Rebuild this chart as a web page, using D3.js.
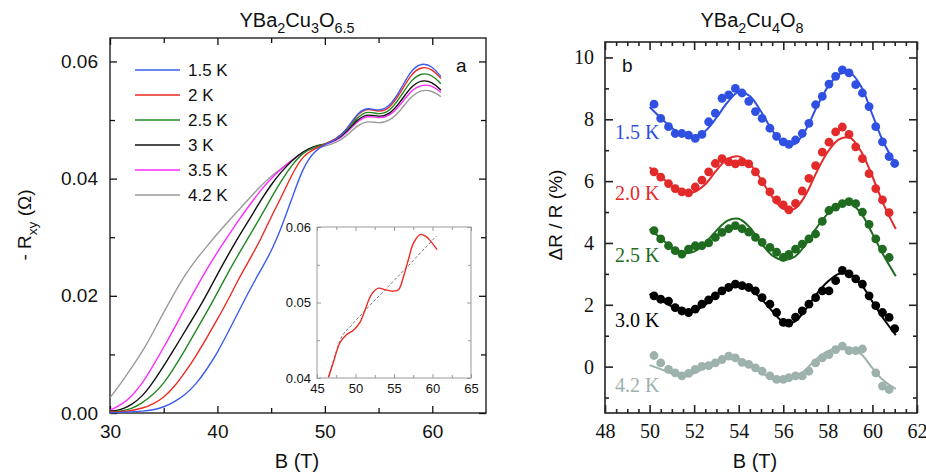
<!DOCTYPE html>
<html>
<head>
<meta charset="utf-8">
<script src="https://cdn.jsdelivr.net/npm/d3@7"></script>
<style>
body{margin:0;background:#fff;}
text{font-family:Arial,"Liberation Sans",sans-serif;fill:#111;}
.serif{font-family:"Liberation Serif","Times New Roman",serif;}
</style>
</head>
<body>
<svg id="chart" width="926" height="476"></svg>
<script>
// ---------- panel a : YBa2Cu3O6.5 Hall resistance ----------
var fieldA = [30,31,32,33,34,35,36,37,38,39,40,41,42,43,44,45,46,47,48,49,50,51,52,53,54,55,56,57,58,59,60,60.8];
var temps = ["1.5 K","2 K","2.5 K","3 K","3.5 K","4.2 K"];
var rxy15 = [.0000,.0001,.0002,.0003,.0005,.0010,.0019,.0031,.0049,.0074,.0103,.0138,.0174,.0210,.0243,.0275,.0318,.0370,.0420,.0447,
             .0458,.0466,.0482,.0512,.0522,.0515,.0522,.0550,.0585,.0598,.0592,.0574];
var rxy20 = [.0001,.0002,.0004,.0008,.0015,.0026,.0045,.0070,.0097,.0128,.0160,.0193,.0230,.0262,.0295,.0335,.0370,.0410,.0440,.0450,
             .0459,.0467,.0482,.0510,.0521,.0513,.0519,.0545,.0578,.0592,.0587,.0571];
var rxy25 = [.0002,.0003,.0007,.0017,.0031,.0050,.0078,.0108,.0140,.0172,.0205,.0240,.0272,.0303,.0334,.0367,.0398,.0425,.0445,.0454,
             .0459,.0466,.0481,.0505,.0516,.0509,.0514,.0538,.0568,.0581,.0577,.0562];
var rxy30 = [.0003,.0005,.0014,.0028,.0052,.0080,.0110,.0140,.0170,.0202,.0237,.0270,.0302,.0331,.0362,.0390,.0413,.0432,.0447,.0455,
             .0459,.0465,.0479,.0501,.0511,.0505,.0509,.0530,.0557,.0569,.0565,.0551];
var rxy35 = [.0005,.0013,.0028,.0050,.0080,.0112,.0145,.0180,.0213,.0245,.0275,.0302,.0330,.0355,.0380,.0400,.0418,.0432,.0446,.0454,
             .0458,.0464,.0477,.0498,.0508,.0503,.0506,.0525,.0550,.0561,.0559,.0547];
var rxy42 = [.0026,.0050,.0077,.0104,.0137,.0172,.0205,.0236,.0262,.0284,.0306,.0327,.0347,.0367,.0387,.0404,.0418,.0432,.0446,.0452,
             .0455,.0461,.0472,.0491,.0499,.0494,.0498,.0515,.0540,.0552,.0550,.0540];
var xTicksA = [30,40,50,60];
var yTicksA = [0,0.02,0.04,0.06];

// inset
var fieldIn = [46.5,47.1,48.0,48.9,49.7,50.6,51.2,52.1,53.0,53.8,54.9,55.6,56.2,56.9,57.5,58.4,59.1,59.7,60.6];
var rxyIn   = [.0401,.0420,.0447,.0458,.0463,.0474,.0489,.0511,.0519,.0517,.0515,.0517,.0533,.0558,.0578,.0590,.0588,.0582,.0570];
var bgField = [46.5,47.2,48.0,49.5,51.2,55.1,60.5];
var bgRxy   = [.0401,.0425,.0450,.0470,.0489,.0530,.0588];

// ---------- panel b : YBa2Cu4O8 oscillations ----------
var dotField = [50.2,50.5,50.85,51.15,51.45,51.75,52.05,52.35,52.65,52.95,53.25,53.55,53.85,54.15,54.45,54.75,55.05,55.4,55.7,56.0,
                56.25,56.55,56.85,57.15,57.45,57.75,58.05,58.35,58.65,58.95,59.25,59.55,59.85,60.15,60.45,60.75,61.0];
var dots15 = [8.49,8.03,7.76,7.54,7.54,7.49,7.38,7.51,7.92,8.2,8.68,8.79,9.0,8.85,8.58,8.25,8.03,7.71,7.45,7.27,
              7.19,7.33,7.54,7.87,8.47,8.74,9.14,9.39,9.6,9.5,9.12,8.85,8.41,7.76,7.27,6.79,6.57];
var dots20 = [6.3,6.13,5.92,5.76,5.65,5.62,5.81,6.03,6.3,6.57,6.73,6.62,6.56,6.62,6.56,6.3,5.98,5.65,5.39,5.23,
              5.07,5.28,5.68,6.09,6.5,6.94,7.26,7.59,7.75,7.51,7.11,6.73,6.24,5.76,5.39,4.98,null];
var dots25 = [4.4,4.13,3.91,3.75,3.64,3.8,3.91,3.91,4.0,4.18,4.34,4.46,4.56,4.46,4.35,4.18,4.02,3.86,3.7,3.53,
              3.63,3.8,3.96,4.13,4.29,4.7,5.05,5.16,5.27,5.34,5.27,5.0,4.6,4.13,3.8,3.53,null];
var dots30 = [2.29,2.18,2.12,1.91,1.8,1.75,1.86,2.02,2.16,2.29,2.45,2.56,2.67,2.62,2.56,2.45,2.23,2.02,1.75,1.43,
              1.41,1.6,1.8,2.02,2.23,2.45,2.45,2.78,3.11,3.0,2.84,2.67,2.29,1.97,1.75,1.59,1.23];
var dots42 = [0.36,0.12,-0.09,-0.2,-0.3,-0.22,-0.09,0.01,0.03,0.12,0.23,0.34,0.28,0.14,0.07,-0.04,-0.15,-0.3,-0.41,-0.41,
              -0.36,-0.3,-0.3,-0.15,0.12,0.28,0.39,0.55,0.66,0.52,0.52,0.57,null,-0.2,-0.63,-0.74,null];
var fitField = [50,50.5,51,51.5,52,52.5,53,53.5,54,54.5,55,55.5,56,56.5,57,57.5,58,58.5,59,59.5,60,60.5,61.05];
var fit15 = [8.40,8.05,7.72,7.50,7.45,7.62,8.05,8.55,8.88,8.75,8.25,7.65,7.22,7.20,7.65,8.40,9.05,9.45,9.50,9.05,8.15,7.25,6.55];
var fit20 = [6.45,6.15,5.85,5.65,5.65,5.90,6.35,6.72,6.80,6.55,6.05,5.50,5.10,5.10,5.55,6.30,6.95,7.35,7.40,6.95,6.15,5.25,4.45];
var fit25 = [4.45,4.15,3.85,3.68,3.72,4.00,4.40,4.72,4.78,4.50,4.00,3.60,3.45,3.55,3.95,4.50,4.95,5.25,5.28,4.95,4.30,3.60,2.92];
var fit30 = [2.35,2.15,1.95,1.80,1.80,2.00,2.30,2.55,2.62,2.50,2.20,1.80,1.45,1.45,1.85,2.35,2.75,3.00,2.98,2.65,2.10,1.55,1.02];
var fit42 = [0.05,-0.08,-0.22,-0.28,-0.22,-0.02,0.18,0.30,0.25,0.05,-0.20,-0.38,-0.45,-0.35,-0.10,0.25,0.50,0.62,0.60,0.40,-0.05,-0.45,-0.72];
var labelsB = ["1.5 K","2.0 K","2.5 K","3.0 K","4.2 K"];
var xTicksB = [48,50,52,54,56,58,60,62];
var yTicksB = [0,2,4,6,8,10];

var svg = d3.select("#chart");

// write a label with subscripts: parts = [[text, isSub], ...]
function subText(t, parts, size){
  var prevSub = false;
  parts.forEach(function(p){
    var ts = t.append("tspan").text(p[0]);
    if (p[1]) { ts.attr("font-size", size*0.72); if(!prevSub) ts.attr("dy", size*0.3); }
    else if (prevSub) ts.attr("dy", -size*0.3);
    prevSub = p[1];
  });
}

// inward ticks on all four sides
function frame(g, x, y, o){
  var x0=x.range()[0], x1=x.range()[1], y0=y.range()[0], y1=y.range()[1];
  g.append("rect").attr("x",x0).attr("y",y1).attr("width",x1-x0).attr("height",y0-y1)
    .attr("fill","none").attr("stroke",o.color).attr("stroke-width",o.sw);
  function ax(gen, tr, vals, len, labels){
    var a = g.append("g").attr("transform",tr)
      .call(gen.tickValues(vals).tickSize(-len).tickPadding(o.pad)
        .tickFormat(labels ? o.fmt : ""));
    a.select(".domain").remove();
    a.selectAll("line").attr("stroke",o.color).attr("stroke-width",o.sw);
    a.selectAll("text").attr("font-size",o.fs).attr("fill","#111").attr("class",o.cls||null);
    return a;
  }
  ax(d3.axisBottom(x),"translate(0,"+y0+")",o.xMaj,o.maj,true);
  ax(d3.axisBottom(x),"translate(0,"+y0+")",o.xMin,o.min,false);
  ax(d3.axisTop(x),"translate(0,"+y1+")",o.xMaj,o.maj,false);
  ax(d3.axisTop(x),"translate(0,"+y1+")",o.xMin,o.min,false);
  var ly = g.append("g").attr("transform","translate("+x0+",0)")
    .call(d3.axisLeft(y).tickValues(o.yMaj).tickSize(-o.maj).tickPadding(o.pad).tickFormat(o.yfmt || o.fmt));
  ly.select(".domain").remove();
  ly.selectAll("line").attr("stroke",o.color).attr("stroke-width",o.sw);
  ly.selectAll("text").attr("font-size",o.fs).attr("fill","#111").attr("class",o.cls||null);
  ax(d3.axisLeft(y),"translate("+x0+",0)",o.yMin,o.min,false);
  ax(d3.axisRight(y),"translate("+x1+",0)",o.yMaj,o.maj,false);
  ax(d3.axisRight(y),"translate("+x1+",0)",o.yMin,o.min,false);
}

// ===== panel a =====
var xA = d3.scaleLinear().domain([30,65]).range([110,486]);
var yA = d3.scaleLinear().domain([0,0.064]).range([413,38]);
var gA = svg.append("g");
frame(gA, xA, yA, {color:"#111", sw:1.3, pad:12, fs:19, maj:7, min:5,
  xMaj:xTicksA, xMin:[35,45,55], yMaj:yTicksA, yMin:[0.01,0.03,0.05],
  fmt:d3.format("d"), yfmt:d3.format(".2f")});

var colorsA = ["#3a5cf2","#ee2a22","#21881f","#111111","#ff2bff","#9a9a9a"];
var seriesA = [rxy15,rxy20,rxy25,rxy30,rxy35,rxy42];
var lineA = d3.line().x(function(d,i){return xA(fieldA[i]);}).y(function(d){return yA(d);})
  .curve(d3.curveBasis);
// draw 4.2 K first so the cold curves sit on top
for (var k=seriesA.length-1;k>=0;k--){
  gA.append("path").attr("d",lineA(seriesA[k])).attr("fill","none")
    .attr("stroke",colorsA[k]).attr("stroke-width",1.4);
}
// legend
temps.forEach(function(t,i){
  var yy = 70 + i*25;
  gA.append("line").attr("x1",135).attr("x2",180).attr("y1",yy).attr("y2",yy)
    .attr("stroke",colorsA[i]).attr("stroke-width",1.6);
  gA.append("text").attr("x",188).attr("y",yy+6).attr("font-size",17).text(t);
});
gA.append("text").attr("x",456).attr("y",72).attr("font-size",19).text("a");

// title and axis labels
var tA = svg.append("text").attr("x",297).attr("y",27).attr("text-anchor","middle").attr("font-size",20);
subText(tA, [["YBa",0],["2",1],["Cu",0],["3",1],["O",0],["6.5",1]], 20);
svg.append("text").attr("x",297).attr("y",468).attr("text-anchor","middle").attr("font-size",20).text("B (T)");
var yl = svg.append("text").attr("transform","translate(31,225) rotate(-90)")
  .attr("text-anchor","middle").attr("font-size",19);
subText(yl, [["- R",0],["xy",1],[" (Ω)",0]], 19);

// inset
var xI = d3.scaleLinear().domain([45,65]).range([317,471]);
var yI = d3.scaleLinear().domain([0.04,0.06]).range([378,227]);
var gI = svg.append("g");
gI.append("rect").attr("x",317).attr("y",227).attr("width",154).attr("height",151).attr("fill","#fff");
frame(gI, xI, yI, {color:"#999", sw:1, pad:6, fs:13, maj:4, min:3,
  xMaj:[45,50,55,60,65], xMin:[47.5,52.5,57.5,62.5], yMaj:[0.04,0.05,0.06], yMin:[0.045,0.055],
  fmt:d3.format("d"), yfmt:d3.format(".2f")});
gI.append("path").attr("d", d3.line().x(function(d,i){return xI(bgField[i]);}).y(function(d){return yI(d);})
  .curve(d3.curveMonotoneX)(bgRxy))
  .attr("stroke","#777").attr("stroke-width",1).attr("stroke-dasharray","3,2").attr("fill","none");
gI.append("path").attr("d", d3.line().x(function(d,i){return xI(fieldIn[i]);}).y(function(d){return yI(d);})
  .curve(d3.curveCatmullRom.alpha(0.5))(rxyIn))
  .attr("stroke","#ee2a22").attr("stroke-width",1.4).attr("fill","none");

// ===== panel b =====
var xB = d3.scaleLinear().domain([48,62]).range([605,917]);
var yB = d3.scaleLinear().domain([-1.5,10.5]).range([413,42]);
var gB = svg.append("g");
var xMinB = d3.range(48.5,62,0.5).filter(function(v){return v%2!==0;});
frame(gB, xB, yB, {color:"#222", sw:1.6, pad:11, fs:20, maj:8, min:4, cls:"serif",
  xMaj:xTicksB, xMin:xMinB, yMaj:yTicksB, yMin:[-1,1,3,5,7,9],
  fmt:d3.format("d")});

var colorsB = ["#2f50e2","#e32a2a","#1f6b1f","#000000","#9db2ad"];
var dotsB = [dots15,dots20,dots25,dots30,dots42];
var fitsB = [fit15,fit20,fit25,fit30,fit42];
var labelAt = [7.6,5.6,3.6,1.5,-0.6];
var lineB = d3.line().x(function(d,i){return xB(fitField[i]);}).y(function(d){return yB(d);})
  .curve(d3.curveCatmullRom.alpha(0.5));
dotsB.forEach(function(ds,k){
  gB.append("path").attr("d",lineB(fitsB[k])).attr("fill","none")
    .attr("stroke",colorsB[k]).attr("stroke-width",2);
  gB.selectAll(null).data(ds.map(function(v,i){return [dotField[i],v];}).filter(function(d){return d[1]!==null;}))
    .enter().append("circle")
    .attr("cx",function(d){return xB(d[0]);}).attr("cy",function(d){return yB(d[1]);})
    .attr("r",4.4).attr("fill",colorsB[k]);
  gB.append("text").attr("class","serif").attr("x",615).attr("y",yB(labelAt[k])+7)
    .attr("font-size",20).style("fill",colorsB[k]).text(labelsB[k]);
});
gB.append("text").attr("x",622).attr("y",72).attr("font-size",19).text("b");

var tB = svg.append("text").attr("x",752).attr("y",27).attr("text-anchor","middle").attr("font-size",20);
subText(tB, [["YBa",0],["2",1],["Cu",0],["4",1],["O",0],["8",1]], 20);
svg.append("text").attr("x",755).attr("y",468).attr("text-anchor","middle").attr("font-size",20).text("B (T)");
svg.append("text").attr("transform","translate(562,215) rotate(-90)")
  .attr("text-anchor","middle").attr("font-size",19).text("ΔR / R (%)");
</script>
</body>
</html>
